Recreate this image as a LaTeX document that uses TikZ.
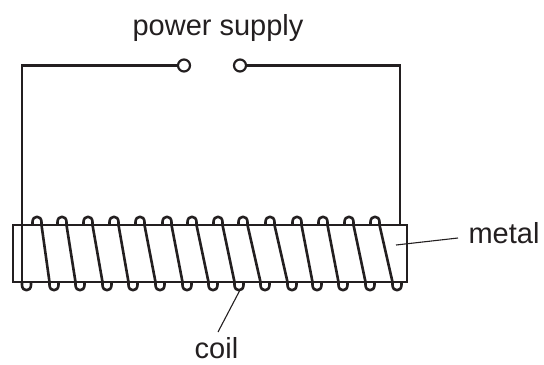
\documentclass[tikz,border=0pt]{standalone}
\usepackage{fontspec}
\setmainfont{Liberation Sans}
\definecolor{ink}{HTML}{231F20}
\begin{document}
\begin{tikzpicture}[x=1bp,y=-1bp,
  wire/.style={line width=2.2bp, draw=ink},
  coilline/.style={line width=2.6bp, draw=ink, line join=round},
  lbl/.style={font=\fontsize{29bp}{34bp}\selectfont, text=ink, inner sep=0pt, anchor=base},
  leader/.style={line width=1.1bp, draw=ink},
  terminal/.style={circle, draw=ink, line width=2.2bp, minimum size=12bp, inner sep=0pt},
  bar/.style={rectangle, draw=ink, fill=white, line width=2bp, minimum width=394bp, minimum height=57bp, inner sep=0pt}]
\useasboundingbox (0,0) rectangle (544,364);

% labels
\node[lbl] (ps) at (218,35) {power supply};
\node[lbl] (metallbl) at (504,243) {metal};
\node[lbl] (coillbl) at (216.5,358) {coil};

% terminals
\node[terminal] (tl) at (184,65.5) {};
\node[terminal] (tr) at (240,65.5) {};

% metal bar
\node[bar] (metal) at (210,253.5) {};

% wires
\coordinate (cl) at (22,65.5);
\coordinate (cr) at (400,65.5);
\coordinate (wl) at (22,282);
\coordinate (wr) at (400,225);
\draw[wire] (tl.west) -- (cl) -- (wl);
\draw[wire] (tr.east) -- (cr) -- (wr);

% first bottom loop
\draw[coilline] (wl) -- (22,285) .. controls (22,292) and (31,292) .. (31,285) -- (31,282);

% coil turns
\foreach \t/\b in {37/54, 62/80, 88/107, 114/133, 140/160, 167/187, 192/213, 218/239, 243/265, 270/292, 297/317, 323/343, 349/370, 375/397}{
  \draw[coilline] (\t-4.5,225) -- (\t-4.5,222) .. controls (\t-4.5,215) and (\t+4.5,215) .. (\t+4.5,222) -- (\t+4.5,225)
    -- (\b-4.5,282) -- (\b-4.5,285) .. controls (\b-4.5,292) and (\b+4.5,292) .. (\b+4.5,285) -- (\b+4.5,282);
}

% leaders
\coordinate (mlead) at (396,245);
\coordinate (mend) at (458,238);
\draw[leader] (mlead) -- (mend);
\coordinate (clead) at (240,290);
\coordinate (cend) at (218,332);
\draw[leader] (clead) -- (cend);
\end{tikzpicture}
\end{document}
